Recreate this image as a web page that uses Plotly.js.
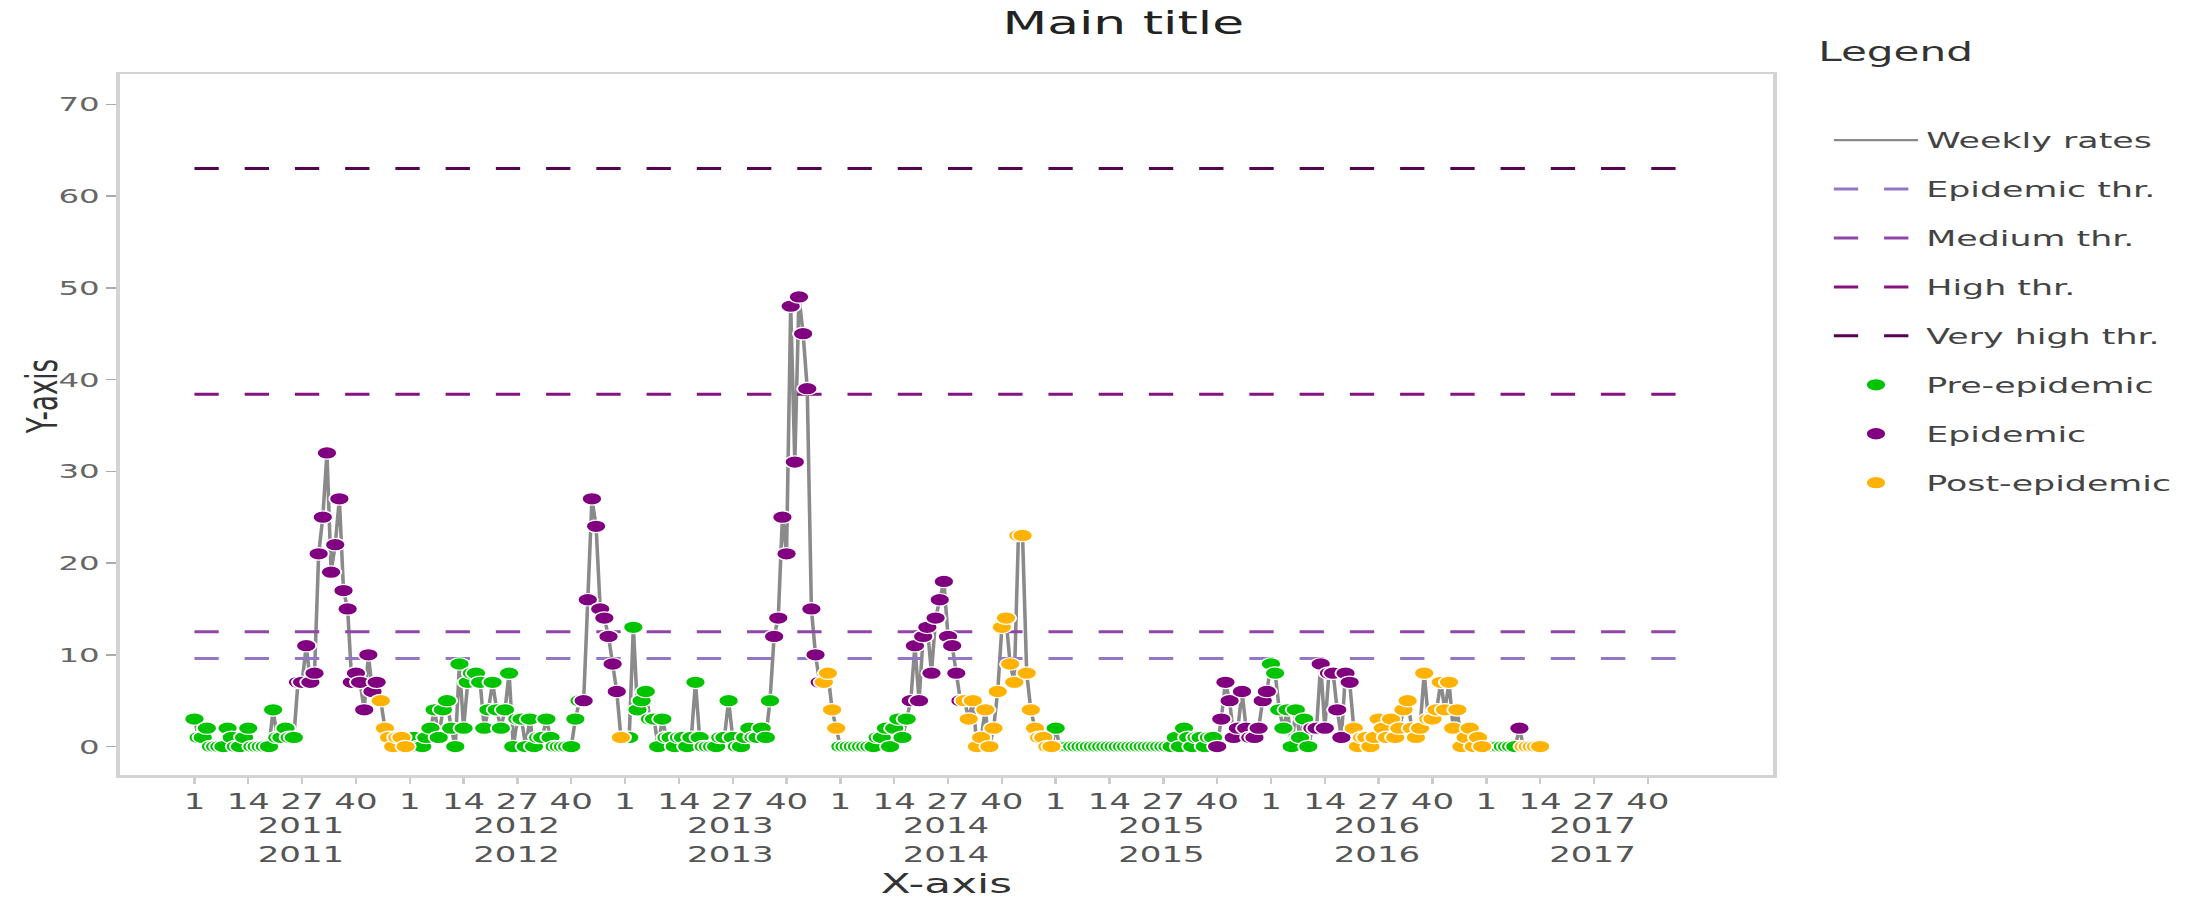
<!DOCTYPE html>
<html><head><meta charset="utf-8">
<script src="https://cdn.plot.ly/plotly-3.0.1.min.js"></script>
<style>
html,body{margin:0;padding:0;background:#fff;overflow:hidden;}
#wrap{width:2199px;height:902px;overflow:hidden;}
#chart{width:1357px;height:902px;transform:scaleX(1.6205);transform-origin:0 0;}
</style></head><body>
<div id="wrap"><div id="chart"></div></div>
<script>
// ---- data ----
const years = [2011, 2012, 2013, 2014, 2015, 2016, 2017];
const weekTicks = [1, 14, 27, 40];
const weeksPerYear = 52;

const rates2011 = [3,1,1,2,0,0,0,0,2,1,0,0,1,2,0,0,0,0,0,4,1,1,2,1,1,
  7,7,11,7,8,21,25,32,19,22,27,17,15,7,8,7,4,10,6,7,
  5,2,1,0,1,1,0];
const rates2012 = [1,1,0,0,1,2,4,1,4,5,2,0,9,2,7,8,8,7,2,4,7,4,2,4,8,0,3,3,0,3,0,1,1,3,1,0,0,0,0,0,3,5,
  5,16,27,24,15,14,12,9,6,
  1];
const rates2013 = [1,1,13,4,5,6,3,3,0,3,1,1,0,1,1,0,1,7,1,0,0,0,0,1,1,5,1,0,0,1,2,1,1,2,1,5,
  12,14,25,21,48,31,49,45,39,15,10,7,
  7,8,4,2];
const rates2014 = [0,0,0,0,0,0,0,0,0,1,1,2,0,2,3,1,3,
  5,11,5,12,13,8,14,16,18,12,11,8,5,
  5,3,5,0,1,4,0,2,6,13,14,9,7,23,23,8,4,2,1,1,0,0];
const rates2015 = [2,0,0,0,0,0,0,0,0,0,0,0,0,0,0,0,0,0,0,0,0,0,0,0,0,0,0,0,0,1,0,2,1,0,1,1,0,1,1,
  0,3,7,5,1,2,6,2,1,1,2,5,6];
const rates2016 = [9,8,4,2,4,0,4,1,3,0,
  2,2,9,2,8,8,4,1,8,7,
  2,0,1,1,0,1,3,2,1,3,1,2,4,5,2,1,2,8,3,3,4,7,4,7,2,4,0,1,2,0,1,0];
const rates2017 = [0,0,0,0,0,0,0,0,2,0,0,0,0,0];

// first / last week of the epidemic phase in each year
const epiStartWeek = [26, 43, 37, 18, 40, 11, 9];
const epiEndWeek   = [45, 51, 48, 30, 52, 20, 9];

const thresholdNames  = ['Epidemic thr.', 'Medium thr.', 'High thr.', 'Very high thr.'];
const thresholdValues = [9.6, 12.5, 38.4, 63.0];
const phaseNames = ['Pre-epidemic', 'Epidemic', 'Post-epidemic'];

// ---- styles ----
const FONT = 'DejaVu Sans, Verdana, sans-serif';
const thresholdColors = ['#9377c6', '#8f46a6', '#85137f', '#550452'];
const phaseColors = ['#00c400', '#800080', '#ffb300'];

// ---- build series ----
const allRates = [rates2011, rates2012, rates2013, rates2014, rates2015, rates2016, rates2017];
const pos = (yr, wk) => (yr - years[0]) * weeksPerYear + (wk - 1);
const xs = [], ys = [], ph = [];
years.forEach((yr, i) => {
  allRates[i].forEach((v, k) => {
    const wk = k + 1;
    xs.push(pos(yr, wk));
    ys.push(v);
    ph.push(wk < epiStartWeek[i] ? 0 : (wk <= epiEndWeek[i] ? 1 : 2));
  });
});

const traces = [];
traces.push({
  x: xs, y: ys, type: 'scatter', mode: 'lines', name: 'Weekly rates',
  legendgroup: 'g0', line: {color: '#8a8a8a', width: 2.2}, hoverinfo: 'skip'
});
const xEnd = pos(years[years.length - 1], weeksPerYear);
thresholdNames.forEach((n, i) => {
  traces.push({
    x: [pos(years[0], 1), xEnd], y: [thresholdValues[i], thresholdValues[i]],
    type: 'scatter', mode: 'lines', name: n, legendgroup: 'g' + (i + 1),
    line: {color: thresholdColors[i], width: 3, dash: '15px,16px'}
  });
});
phaseNames.forEach((n, p) => {
  const px = [], py = [];
  ph.forEach((q, k) => { if (q === p) { px.push(xs[k]); py.push(ys[k]); } });
  traces.push({
    x: px, y: py, type: 'scatter', mode: 'markers', name: n, legendgroup: 'p' + p,
    marker: {color: phaseColors[p], size: 12.5, line: {color: '#ffffff', width: 1.2}}
  });
});

const tickvals = [], ticktext = [];
years.forEach(yr => weekTicks.forEach(wk => { tickvals.push(pos(yr, wk)); ticktext.push(String(wk)); }));

const M = {l: 74, r: 262, t: 74, b: 127};
const H = 902;
const plotBottom = H - M.b;
const annotations = [];
years.forEach(yr => {
  [826, 855].forEach(yc => {
    annotations.push({
      x: pos(yr, 1) + (weeksPerYear - 1) / 2, xref: 'x', y: 0, yref: 'paper',
      yanchor: 'middle', yshift: -(yc - plotBottom), showarrow: false,
      text: String(yr), font: {family: FONT, size: 21, color: '#555'}
    });
  });
});
annotations.push({
  x: 1.0255, xref: 'paper', xanchor: 'left', y: 1, yref: 'paper', yanchor: 'middle',
  yshift: (M.t - 52), showarrow: false, text: 'Legend',
  font: {family: FONT, size: 26, color: '#333'}
});
// y-axis title
annotations.push({
  x: -0.047, xref: 'paper', xanchor: 'center', y: 0.539, yref: 'paper', yanchor: 'middle',
  textangle: -90, showarrow: false, text: 'Y-axis',
  font: {family: FONT, size: 26, color: '#333'}
});

const layout = {
  width: 1357, height: H,
  margin: M,
  paper_bgcolor: '#ffffff', plot_bgcolor: '#ffffff',
  font: {family: FONT, color: '#444'},
  title: {text: 'Main title', x: 0.5108, xref: 'container', xanchor: 'center',
          y: 1 - 22.5 / H, yref: 'container', yanchor: 'middle',
          font: {family: FONT, size: 32, color: '#222'}},
  xaxis: {
    range: [-18, 381.2], tickmode: 'array', tickvals: tickvals, ticktext: ticktext,
    ticks: 'outside', ticklen: 6, tickwidth: 1.5, tickcolor: '#cccccc',
    tickfont: {family: FONT, size: 21, color: '#555'},
    showgrid: false, zeroline: false, showline: true, linecolor: '#d3d3d3', linewidth: 2.5, mirror: true,
    title: {text: 'X-axis', standoff: 62, font: {family: FONT, size: 27, color: '#333'}}
  },
  yaxis: {
    range: [-3.1, 73.3], tickmode: 'array', tickvals: [0,10,20,30,40,50,60,70],
    ticks: 'outside', ticklen: 6, tickwidth: 1.5, tickcolor: '#aaaaaa',
    tickfont: {family: FONT, size: 20, color: '#666'},
    showgrid: false, zeroline: false, showline: true, linecolor: '#d3d3d3', linewidth: 2.5, mirror: true,
    title: {text: ''}
  },
  legend: {
    x: 1.031, xanchor: 'left', y: 0.935, yanchor: 'top',
    font: {family: FONT, size: 21.5, color: '#444'},
    tracegroupgap: 18, itemwidth: 52, bgcolor: 'rgba(0,0,0,0)'
  },
  annotations: annotations,
  showlegend: true
};

Plotly.newPlot('chart', traces, layout, {displayModeBar: false, responsive: false, staticPlot: true});
</script>
</body></html>
